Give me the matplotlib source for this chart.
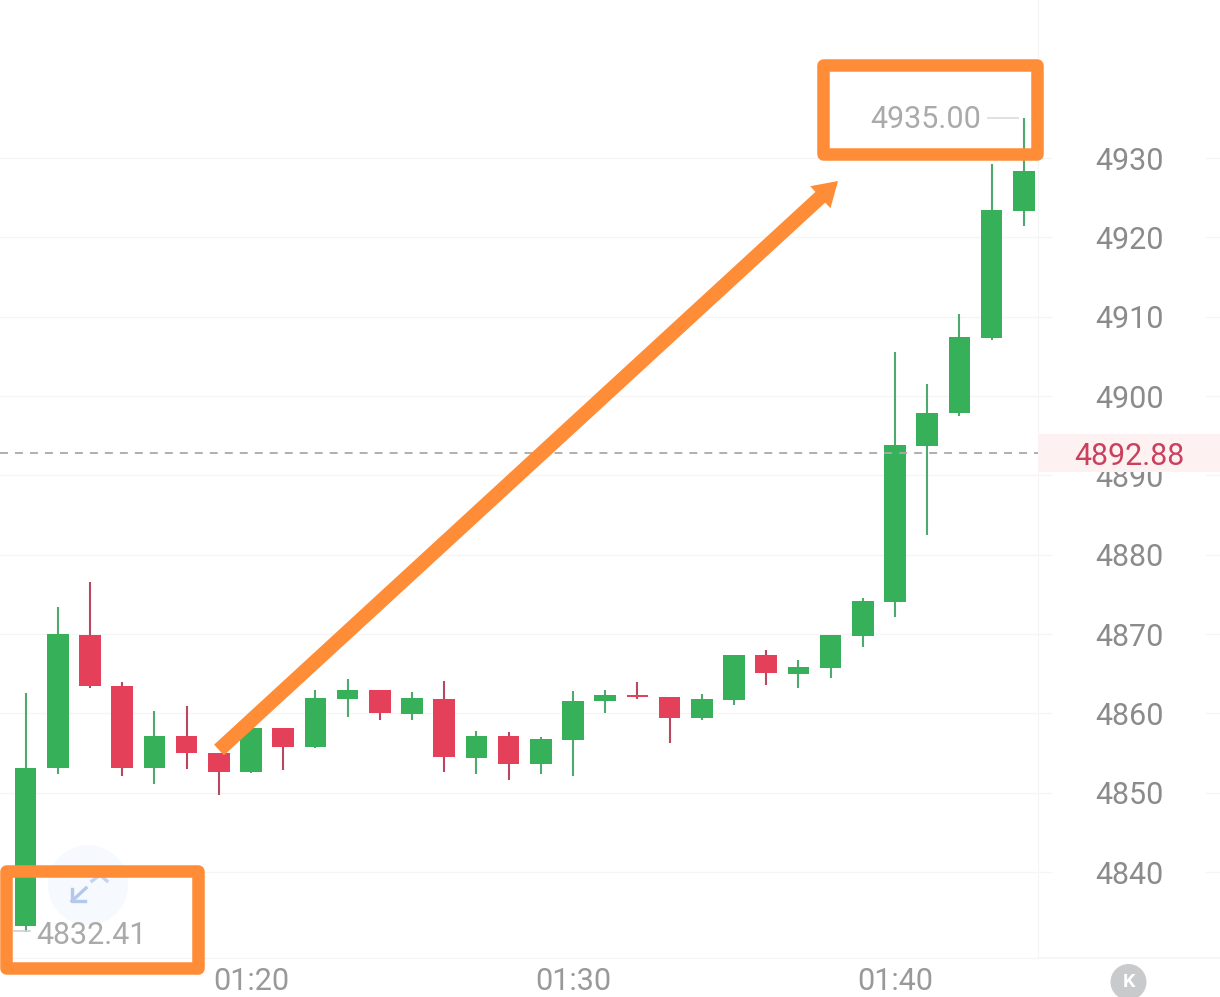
import matplotlib
matplotlib.use("Agg")
import matplotlib.pyplot as plt
from matplotlib.patches import Circle, Rectangle

plt.rcParams['font.family'] = ['Roboto', 'DejaVu Sans']

# candles, one per minute after 01:00
minutes = list(range(13, 45))
opens = [4833.2, 4853.1, 4869.9, 4863.4, 4853.1, 4857.2, 4855.0, 4852.6,
	4858.15, 4855.8, 4861.85, 4862.9, 4859.95, 4861.85, 4854.4, 4857.15,
	4853.6, 4856.7, 4861.5, 4862.3, 4862.0, 4859.4, 4861.7, 4867.3,
	4865.0, 4865.7, 4869.8, 4874.0, 4893.7, 4897.8, 4907.35, 4923.35]
closes = [4853.17, 4870.0, 4863.4, 4853.15, 4857.2, 4855.0, 4852.6, 4858.2,
	4855.8, 4861.9, 4862.9, 4860.0, 4861.9, 4854.5, 4857.2, 4853.65,
	4856.8, 4861.6, 4862.35, 4862.05, 4859.45, 4861.8, 4867.35, 4865.1,
	4865.8, 4869.9, 4874.1, 4893.8, 4897.9, 4907.4, 4923.45, 4928.4]
highs = [4862.6, 4873.4, 4876.6, 4864.0, 4860.3, 4860.9, 4855.0, 4858.3,
	4858.15, 4862.9, 4864.3, 4862.9, 4862.7, 4864.1, 4857.8, 4857.7,
	4857.0, 4862.8, 4863.0, 4864.0, 4862.0, 4862.5, 4867.35, 4867.95,
	4866.7, 4869.9, 4874.6, 4905.5, 4901.5, 4910.3, 4929.2, 4935.0]
lows = [4832.41, 4852.3, 4863.2, 4852.1, 4851.1, 4853.0, 4849.7, 4852.5,
	4852.9, 4855.6, 4859.5, 4859.1, 4859.2, 4852.6, 4852.35, 4851.6,
	4852.4, 4852.1, 4860.1, 4861.8, 4856.3, 4859.1, 4861.1, 4863.6,
	4863.15, 4864.4, 4868.4, 4872.2, 4882.5, 4897.5, 4907.05, 4921.4]

price_ticks = [4840, 4850, 4860, 4870, 4880, 4890, 4900, 4910, 4920, 4930]
time_ticks = [20, 30, 40]
time_labels = ["01:20", "01:30", "01:40"]
last_price = 4892.88

GREEN = "#36b159"
RED = "#e5405a"
GREEN_WICK = "#4ea96e"
RED_WICK = "#b8485f"
ORANGE = "#ff8c37"
GRID = "#f5f5f6"

fig = plt.figure(figsize=(12.2, 9.97), dpi=100)
ax = fig.add_axes([0, 39/997, 1038/1220, 958/997])
ax.set_xlim(12.205, 44.44)
ax.set_ylim(4829.16, 4949.92)

for s in ax.spines.values():
	s.set_visible(False)
ax.spines['right'].set_visible(True)
ax.spines['right'].set_color(GRID)
ax.spines['bottom'].set_visible(True)
ax.spines['bottom'].set_color(GRID)

ax.yaxis.tick_right()
ax.set_yticks(price_ticks)
ax.set_xticks(time_ticks)
ax.set_xticklabels(time_labels)
ax.tick_params(axis='y', length=0, pad=41, labelsize=22, labelcolor="#8b8b8b")
ax.tick_params(axis='x', length=0, pad=6.5, labelsize=22, labelcolor="#999999")
ax.grid(axis='y', color=GRID, lw=1)
ax.set_axisbelow(True)

# grid stubs either side of the price labels
trans = ax.get_yaxis_transform()
ax.hlines(price_ticks, 1, 1052/1038, transform=trans, color=GRID, lw=1, clip_on=False)
ax.hlines(price_ticks, 1205/1038, 1220/1038, transform=trans, color=GRID, lw=1, clip_on=False)
ax.plot([1, 1220/1038], [0, 0], transform=ax.transAxes, color=GRID, lw=1.2, clip_on=False)

for m, o, c, h, l in zip(minutes, opens, closes, highs, lows):
	up = c >= o
	ax.vlines(m, l, h, color=GREEN_WICK if up else RED_WICK, lw=1.5, zorder=2)
	ax.bar(m, abs(c-o), bottom=min(o, c), width=0.667, color=GREEN if up else RED, zorder=3)

ax.axhline(last_price, color="#a9a9a9", lw=1.3, dashes=(4.4, 3.9), zorder=4)

# overlay in pixel coordinates for the hand drawn notes
over = fig.add_axes([0, 0, 1, 1])
over.set_xlim(0, 1220)
over.set_ylim(997, 0)
over.axis('off')
over.patch.set_alpha(0)

# last price tag
over.add_patch(Rectangle((1038, 434), 182, 38, color="#fdf1f1", lw=0))
over.text(1129, 456, f"{last_price:.2f}", color="#c9415c", fontsize=22, ha='center', va='center')

# expand button under the low label
over.add_patch(Circle((88, 885), 40, color="#f6f9fe", lw=0))
over.plot([86, 72], [888, 901], color="#b4c8ec", lw=2.4)
over.plot([72, 72, 85], [889, 901, 901], color="#b4c8ec", lw=2.4)
over.plot([92, 100, 107], [881, 875, 881], color="#c4d4f0", lw=2.4)

# high and low labels with their leader lines
over.plot([988, 1018], [118, 118], color="#dcdcdc", lw=1.2)
over.text(981, 120, f"{max(highs):.2f}", color="#aaaaaa", fontsize=22, ha='right', va='center')
over.plot([14, 30], [931, 931], color="#cfcfcf", lw=1.2)
over.text(36, 935, f"{min(lows):.2f}", color="#aaaaaa", fontsize=22, ha='left', va='center')

# K button
over.add_patch(Circle((1128.5, 982), 18, color="#c9cacb", lw=0))
over.text(1128.5, 982, "K", color="white", fontsize=14, fontweight='bold', ha='center', va='center')

# orange boxes and arrow, above the icon
over.add_patch(Rectangle((6.4, 870.5), 191.6, 97.5, fill=False, ec=ORANGE, lw=9, joinstyle='round', zorder=5))
over.add_patch(Rectangle((823, 65), 213.5, 89, fill=False, ec=ORANGE, lw=9, joinstyle='round', zorder=5))
over.arrow(219, 750, 619, -569, width=14.5, head_width=30, head_length=24,
	length_includes_head=True, color=ORANGE, lw=0, zorder=5)

fig.savefig("out.png", dpi=100)
